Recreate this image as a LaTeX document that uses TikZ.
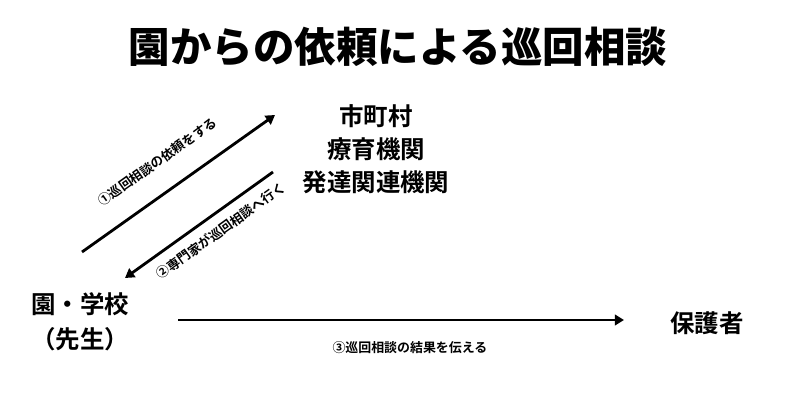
\documentclass[tikz,border=0pt]{standalone}
\usepackage{fontspec}
\setmainfont{Noto Sans CJK JP}[BoldFont={* Bold}]
\newfontfamily\titlefont{Noto Sans CJK JP}[UprightFont={* Black}]
\usetikzlibrary{arrows.meta}

\begin{document}
\begin{tikzpicture}[x=0.025cm, y=-0.025cm, line width=2pt,
    place/.style={font=\bfseries\fontsize{17.4}{23.5}\selectfont, align=center, inner sep=0pt},
    note/.style={font=\bfseries\fontsize{9.2}{11}\selectfont, inner sep=0pt},
    arrow/.style={-{Triangle[length=6.5pt, width=7.5pt]}}]
            \useasboundingbox (0,0) rectangle (800,419);

            % Draw the title
            \node (title) at (398,47) {\titlefont\fontsize{29.5}{35}\selectfont 園からの依頼による巡回相談};

            % Draw the places
            \node[place] (city) at (376,149) {市町村\\療育機関\\発達関連機関};
            \node[place, font=\bfseries\fontsize{17.4}{24.9}\selectfont] (school) at (80,322) {園・学校\\（先生）};
            \node[place] (parent) at (707,323) {保護者};

            % Ends of the arrows
            \coordinate (ask from) at (82,252);
            \coordinate (ask to) at (275,115);
            \coordinate (visit from) at (273,172);
            \coordinate (visit to) at (125,278);
            \coordinate (tell from) at (178,320);
            \coordinate (tell to) at (624,320);

            % Draw the arrows with their steps
            \draw[arrow] (ask from) -- (ask to) node[note, pos=0.48, sloped, above=16pt] {①巡回相談の依頼をする};
            \draw[arrow] (visit from) -- (visit to) node[note, pos=0.42, sloped, below=7pt] {②専門家が巡回相談へ行く};
            \draw[arrow] (tell from) -- (tell to) node[note, pos=0.52, below=14pt] {③巡回相談の結果を伝える};

        \end{tikzpicture}
\end{document}
